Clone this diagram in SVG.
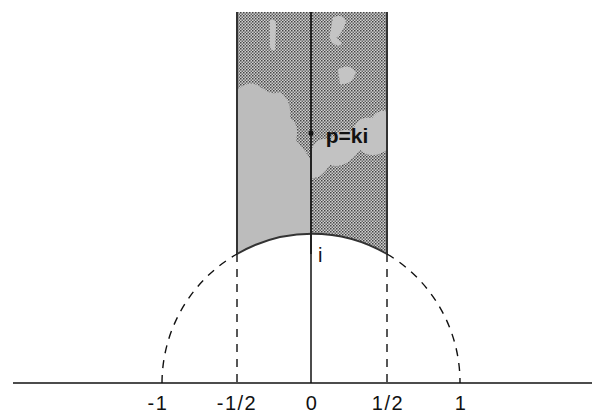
<svg xmlns="http://www.w3.org/2000/svg" width="592" height="417" viewBox="0 0 592 417">
<style>
.axis{stroke:#111;stroke-width:1.5;fill:none}
.edge{stroke:#333;stroke-width:2;fill:none}
.dash{stroke:#111;stroke-width:1.4;fill:none;stroke-dasharray:8 7}
.lbl{font-family:"Liberation Sans",Arial,sans-serif;font-size:20px;fill:#111;text-anchor:middle}
.tick{letter-spacing:1.5px}
</style>
<defs>
<pattern id="dots" width="3" height="3" patternUnits="userSpaceOnUse">
<rect width="3" height="3" fill="#d0d0d0"/>
<rect width="1.5" height="1.5" fill="#444"/>
<rect x="1.5" y="1.5" width="1.5" height="1.5" fill="#666"/>
</pattern>
</defs>
<g id="strip">
<path d="M237 12 L387 12 L387 254 A149 149 0 0 0 237 254 Z" fill="url(#dots)"/>
<path d="M237 90 Q250 78 262 88 Q272 96 280 92 Q292 100 290 118 Q300 125 296 140 Q305 150 311 160 L311 234 A149 149 0 0 0 237 254 Z" fill="#bcbcbc"/>
<path d="M311 150 Q318 135 330 140 Q342 125 352 132 Q358 115 372 118 Q380 108 387 112 L387 150 Q372 160 360 150 Q345 170 330 165 Q320 180 311 178 Z" fill="#c2c2c2"/>
<path d="M333 18 Q342 12 346 22 Q342 34 336 38 Q346 44 338 46 Q328 42 330 34 Z" fill="#c4c4c4"/>
<path d="M338 70 Q348 62 356 72 Q352 86 340 84 Z" fill="#c4c4c4"/>
<path d="M270 20 Q276 18 276 26 L275 50 Q270 52 270 45 Z" fill="#c4c4c4"/>
<path d="M237 12 L237 254" class="edge"/>
<path d="M387 12 L387 254" class="edge"/>
<path d="M237 254 A149 149 0 0 1 387 254" class="edge"/>
</g>
<g id="connectors">
<line x1="13" y1="383" x2="592" y2="383" class="axis"/>
<line x1="311" y1="12" x2="311" y2="254" stroke="#222" stroke-width="2"/>
<line x1="311" y1="254" x2="311" y2="383" class="axis"/>
<path d="M162 383 A149 149 0 0 1 237 254" class="dash"/>
<path d="M387 254 A149 149 0 0 1 460 383" class="dash"/>
<line x1="237" y1="254" x2="237" y2="383" class="dash"/>
<line x1="387" y1="254" x2="387" y2="383" class="dash"/>
</g>
<g id="point-p">
<circle cx="311" cy="133" r="2.5" fill="#111"/>
<text x="347" y="143" class="lbl" style="font-weight:bold;font-size:21px">p=ki</text>
</g>
<g id="label-i"><text x="318" y="262" class="lbl" style="text-anchor:start">i</text></g>
<g id="ticks">
<text x="158" y="410" class="lbl tick">-1</text>
<text x="237" y="410" class="lbl tick">-1/2</text>
<text x="312" y="410" class="lbl tick">0</text>
<text x="388" y="410" class="lbl tick">1/2</text>
<text x="461" y="410" class="lbl tick">1</text>
</g>
</svg>
